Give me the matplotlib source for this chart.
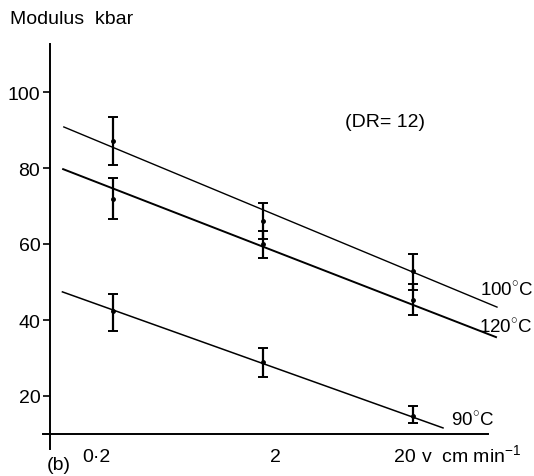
import numpy as np
import matplotlib
matplotlib.use("Agg")
import matplotlib.pyplot as plt
from matplotlib.ticker import NullLocator, FixedLocator

# measured points (v in cm/min, modulus in kbar)
v = [0.2, 2, 20]
mod_100 = [87.0, 66.0, 52.9]
err_100_lo = [6.2, 4.8, 4.9]
err_100_hi = [6.4, 4.8, 4.5]
mod_120 = [71.8, 60.0, 45.3]
err_120_lo = [5.2, 3.7, 4.0]
err_120_hi = [5.6, 3.4, 4.2]
mod_90 = [42.4, 28.9, 14.7]
err_90_lo = [5.3, 3.9, 1.8]
err_90_hi = [4.4, 3.7, 2.7]

# fitted straight lines (end points)
fit_100_x = [0.094, 72.6]
fit_100_y = [90.8, 43.4]
fit_120_x = [0.093, 71.5]
fit_120_y = [79.7, 35.5]
fit_90_x = [0.092, 31.7]
fit_90_y = [47.4, 11.6]

plt.rcParams['font.family'] = ['Liberation Sans', 'DejaVu Sans']
plt.rcParams['mathtext.fontset'] = 'custom'
plt.rcParams['mathtext.rm'] = 'Liberation Sans'
FS = 14

W, H = 534, 477
fig = plt.figure(figsize=(W / 100, H / 100), dpi=100)
ax = fig.add_axes([0, 0, 1, 1])

# map the whole figure onto data coords
ax.set_xscale('log')
ax.set_xlim(10 ** (-0.699 - 113 / 150), 10 ** (-0.699 + (W - 113) / 150))
ax.set_ylim((473 - H) / 3.8, 473 / 3.8)
ax.patch.set_alpha(0)

def fx(p):
    return p / W

def fy(p):
    return 1 - p / H

# lines
ax.plot(fit_100_x, fit_100_y, color='black', lw=1.0)
ax.plot(fit_120_x, fit_120_y, color='black', lw=1.4)
ax.plot(fit_90_x, fit_90_y, color='black', lw=1.1)

for m, lo, hi in [(mod_100, err_100_lo, err_100_hi),
                  (mod_120, err_120_lo, err_120_hi),
                  (mod_90, err_90_lo, err_90_hi)]:
    ax.errorbar(v, m, yerr=[lo, hi], fmt='o', ms=2.5, color='black',
                ecolor='black', elinewidth=1.6, capsize=3.5, capthick=1.4)

# axes lines
for s in ['top', 'right']:
    ax.spines[s].set_visible(False)
ax.spines['left'].set_position(('data', 10 ** (-0.699 - 63 / 150)))
ax.spines['left'].set_bounds(6, 112.6)
ax.spines['bottom'].set_position(('data', 10))
ax.spines['bottom'].set_bounds(10 ** (-0.699 - 70 / 150), 10 ** (1.301 + 75 / 150))
ax.spines['left'].set_linewidth(1.4)
ax.spines['bottom'].set_linewidth(1.4)

ax.yaxis.set_major_locator(FixedLocator([20, 40, 60, 80, 100]))
ax.tick_params(axis='y', direction='out', length=5, width=1.2, pad=2, labelsize=FS)
ax.xaxis.set_major_locator(FixedLocator(v))
ax.xaxis.set_minor_locator(NullLocator())
ax.set_xticklabels(['0·2', '2', '20'])
ax.tick_params(axis='x', length=0, pad=10, labelsize=FS)
# nudge x labels like the original print
for lbl, dx in zip(ax.get_xticklabels(), [-17, 12, -8]):
    lbl.set_transform(lbl.get_transform() + matplotlib.transforms.ScaledTranslation(dx / 100, 0, fig.dpi_scale_trans))

# texts
ax.text(fx(10), fy(20), 'Modulus  kbar', transform=ax.transAxes, fontsize=FS, va='center', ha='left')
ax.text(fx(345), fy(123), '(DR= 12)', transform=ax.transAxes, fontsize=FS, va='center', ha='left')
ax.text(fx(480), fy(290), '100$^{\\circ}$C', transform=ax.transAxes, fontsize=13.5, va='center', ha='left')
ax.text(fx(479), fy(327), '120$^{\\circ}$C', transform=ax.transAxes, fontsize=13.5, va='center', ha='left')
ax.text(fx(451), fy(420), '90$^{\\circ}$C', transform=ax.transAxes, fontsize=13.5, va='center', ha='left')
ax.text(fx(421), fy(456), 'v  cm min$^{-1}$', transform=ax.transAxes, fontsize=FS, va='center', ha='left')
ax.text(fx(47), fy(466), '(b)', transform=ax.transAxes, fontsize=FS, va='center', ha='left')

fig.savefig('out.png', dpi=100)
